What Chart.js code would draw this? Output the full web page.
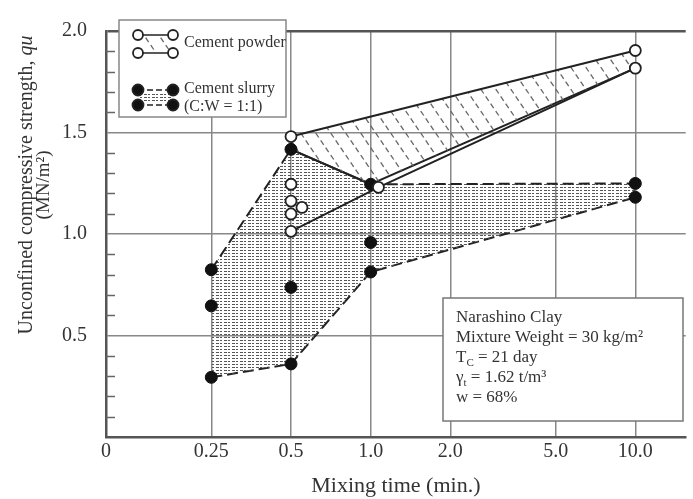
<!DOCTYPE html>
<html>
<head>
<meta charset="utf-8">
<script src="https://cdn.jsdelivr.net/npm/chart.js@4/dist/chart.umd.min.js"></script>
<style>
  html, body { margin: 0; padding: 0; background: #fff; }
  #wrap { width: 693px; height: 499px; }
</style>
</head>
<body>
<div id="wrap"><canvas id="chart" width="693" height="499"></canvas></div>
<script>
// axis ticks
const xTickValues = [0.1, 0.25, 0.5, 1, 2, 5, 10];
const xTickLabels = ['0', '0.25', '0.5', '1.0', '2.0', '5.0', '10.0'];
const yTickValues = [0.5, 1.0, 1.5, 2.0];
const yTickLabels = ['0.5', '1.0', '1.5', '2.0'];
const yMinorTicks = [0.1, 0.2, 0.3, 0.4, 0.6, 0.7, 0.8, 0.9, 1.1, 1.2, 1.3, 1.4, 1.6, 1.7, 1.8, 1.9];

// cement powder (open circles)
const powderTime = [0.5, 0.5, 0.5, 0.5, 0.5, 0.55, 1.07, 10, 10];
const powderQu = [1.48, 1.245, 1.162, 1.099, 1.013, 1.131, 1.23, 1.904, 1.817];
const powderTopTime = [0.5, 10];
const powderTopQu = [1.48, 1.904];
const powderEdgeTime = [0.5, 1, 10];
const powderEdgeQu = [1.417, 1.245, 1.817];
const powderLowTime = [0.5, 1.07, 10];
const powderLowQu = [1.013, 1.23, 1.817];

// cement slurry C:W = 1:1 (filled circles)
const slurryTime = [0.25, 0.25, 0.25, 0.5, 0.5, 0.5, 1, 1, 1, 10, 10];
const slurryQu = [0.824, 0.646, 0.294, 1.417, 0.737, 0.36, 1.245, 0.958, 0.813, 1.249, 1.181];
const slurryTopTime = [0.25, 0.5, 1, 10];
const slurryTopQu = [0.824, 1.417, 1.245, 1.249];
const slurryLowTime = [0.25, 0.5, 1, 10];
const slurryLowQu = [0.294, 0.36, 0.813, 1.181];

const FONT = "'Liberation Serif', 'DejaVu Serif', serif";
const INK = '#222';
const DASH = [11, 5];

const pts = (xs, ys) => xs.map((x, i) => ({ x: x, y: ys[i] }));

function hatchPattern() {
  const c = document.createElement('canvas');
  c.width = 15; c.height = 22;
  const g = c.getContext('2d');
  g.strokeStyle = '#666';
  g.lineWidth = 1.3;
  [[0.05, 0.25], [0.38, 0.58], [0.71, 0.91]].forEach(([a, b]) => {
    g.beginPath();
    g.moveTo(15 * a, 22 * a);
    g.lineTo(15 * b, 22 * b);
    g.stroke();
  });
  return g.createPattern(c, 'repeat');
}

function dotPattern() {
  const c = document.createElement('canvas');
  c.width = 8; c.height = 3;
  const g = c.getContext('2d');
  g.fillStyle = '#555';
  g.fillRect(0, 1, 3, 1);
  g.fillRect(4, 1, 2, 1);
  return g.createPattern(c, 'repeat');
}

const hatch = hatchPattern();
const dots = dotPattern();

function lineSet(data, extra) {
  return Object.assign({
    type: 'line',
    data: data,
    borderColor: INK,
    borderWidth: 2,
    pointRadius: 0,
    fill: false,
    tension: 0
  }, extra);
}

const minorTicks = {
  id: 'minorTicks',
  afterDraw(chart) {
    const { ctx, chartArea } = chart;
    const y = chart.scales.y;
    ctx.save();
    ctx.strokeStyle = '#666';
    ctx.lineWidth = 1.5;
    yMinorTicks.forEach(v => {
      const py = Math.round(y.getPixelForValue(v)) + 0.5;
      ctx.beginPath();
      ctx.moveTo(chartArea.left, py);
      ctx.lineTo(chartArea.left + 9, py);
      ctx.stroke();
    });
    ctx.restore();
  }
};

const yTitle = {
  id: 'yTitle',
  afterDraw(chart) {
    const ctx = chart.ctx;
    const cy = 185;
    ctx.save();
    ctx.fillStyle = '#333';
    ctx.textBaseline = 'middle';
    ctx.translate(27, cy);
    ctx.rotate(-Math.PI / 2);
    const main = 'Unconfined compressive strength, ';
    ctx.font = '20px ' + FONT;
    const w1 = ctx.measureText(main).width;
    ctx.font = 'italic 20px ' + FONT;
    const w2 = ctx.measureText('qu').width;
    let x = -(w1 + w2) / 2;
    ctx.font = '20px ' + FONT;
    ctx.textAlign = 'left';
    ctx.fillText(main, x, 0);
    ctx.font = 'italic 20px ' + FONT;
    ctx.fillText('qu', x + w1, 0);
    ctx.font = '19px ' + FONT;
    ctx.textAlign = 'center';
    ctx.fillText('(MN/m²)', 0, 17);
    ctx.restore();
  }
};

const boxes = {
  id: 'boxes',
  afterDatasetsDraw(chart) {
    const ctx = chart.ctx;
    ctx.save();

    // legend
    ctx.fillStyle = '#fff';
    ctx.fillRect(119, 20, 167, 97);
    ctx.strokeStyle = '#888';
    ctx.lineWidth = 1.5;
    ctx.strokeRect(119, 20, 167, 97);

    ctx.fillStyle = hatch;
    ctx.fillRect(140, 37, 31, 14);
    ctx.fillStyle = dots;
    ctx.fillRect(140, 92, 31, 11);

    const pair = (y, filled, dashed) => {
      ctx.strokeStyle = INK;
      ctx.lineWidth = 1.6;
      ctx.setLineDash(dashed ? [6, 3] : []);
      ctx.beginPath();
      ctx.moveTo(138, y);
      ctx.lineTo(173, y);
      ctx.stroke();
      ctx.setLineDash([]);
      [138, 173].forEach(x => {
        ctx.beginPath();
        ctx.arc(x, y, filled ? 5.5 : 5, 0, Math.PI * 2);
        ctx.fillStyle = filled ? '#111' : '#fff';
        ctx.fill();
        ctx.lineWidth = 1.8;
        ctx.stroke();
      });
    };
    pair(35, false, false);
    pair(53, false, false);
    pair(90, true, true);
    pair(105, true, true);

    ctx.fillStyle = '#333';
    ctx.font = '16px ' + FONT;
    ctx.textAlign = 'left';
    ctx.textBaseline = 'middle';
    ctx.fillText('Cement powder', 184, 43);
    ctx.fillText('Cement slurry', 184, 89);
    ctx.fillText('(C:W = 1:1)', 184, 107);

    // site conditions
    ctx.fillStyle = '#fff';
    ctx.fillRect(443, 298, 240, 123);
    ctx.strokeStyle = '#777';
    ctx.lineWidth = 1.5;
    ctx.strokeRect(443, 298, 240, 123);

    ctx.fillStyle = '#333';
    ctx.font = '17px ' + FONT;
    const tx = 456;
    ctx.fillText('Narashino Clay', tx, 318);
    ctx.fillText('Mixture Weight = 30 kg/m²', tx, 338);
    const sub = (head, small, tail, y) => {
      ctx.font = '17px ' + FONT;
      ctx.fillText(head, tx, y);
      let x = tx + ctx.measureText(head).width;
      ctx.font = '11px ' + FONT;
      ctx.fillText(small, x, y + 5);
      x += ctx.measureText(small).width;
      ctx.font = '17px ' + FONT;
      ctx.fillText(tail, x, y);
    };
    sub('T', 'C', ' = 21 day', 358);
    sub('γ', 't', ' = 1.62 t/m³', 378);
    ctx.font = '17px ' + FONT;
    ctx.fillText('w = 68%', tx, 398);

    ctx.restore();
  }
};

new Chart(document.getElementById('chart'), {
  type: 'scatter',
  data: {
    datasets: [
      {
        label: 'Cement powder',
        data: pts(powderTime, powderQu),
        pointRadius: 5.5,
        pointBorderWidth: 1.8,
        pointBorderColor: INK,
        pointBackgroundColor: '#fff',
        order: 0
      },
      {
        label: 'Cement slurry',
        data: pts(slurryTime, slurryQu),
        pointRadius: 6,
        pointBorderWidth: 1,
        pointBorderColor: '#111',
        pointBackgroundColor: '#111',
        order: 1
      },
      lineSet(pts(powderTopTime, powderTopQu), { fill: '+1', backgroundColor: hatch, order: 2 }),
      lineSet(pts(powderEdgeTime, powderEdgeQu), { order: 2 }),
      lineSet(pts(powderLowTime, powderLowQu), { order: 2 }),
      lineSet(pts(slurryTopTime, slurryTopQu), {
        fill: '+1',
        backgroundColor: dots,
        order: 3,
        segment: { borderDash: c => (c.p0DataIndex === 1 ? [] : DASH) }
      }),
      lineSet(pts(slurryLowTime, slurryLowQu), { borderDash: DASH, order: 3 })
    ]
  },
  options: {
    responsive: false,
    animation: false,
    layout: { padding: { top: 15, right: 0, bottom: 0, left: 0 } },
    plugins: {
      legend: { display: false },
      tooltip: { enabled: false }
    },
    scales: {
      x: {
        type: 'logarithmic',
        min: 0.1,
        max: 15.5,
        afterBuildTicks: s => { s.ticks = xTickValues.map(v => ({ value: v })); },
        afterFit: s => { s.height = 62; },
        ticks: {
          autoSkip: false,
          maxRotation: 0,
          padding: 3,
          color: '#333',
          font: { family: FONT, size: 20 },
          callback: (v, i) => xTickLabels[i]
        },
        grid: {
          drawTicks: false,
          lineWidth: 1.5,
          color: c => (c.index === 0 ? 'rgba(0,0,0,0)' : '#888')
        },
        border: { color: '#555', width: 2.5 },
        title: {
          display: true,
          text: 'Mixing time (min.)',
          color: '#333',
          font: { family: FONT, size: 22 },
          padding: { top: 0, bottom: 0 }
        }
      },
      y: {
        min: 0,
        max: 2,
        afterBuildTicks: s => { s.ticks = yTickValues.map(v => ({ value: v })); },
        afterFit: s => { s.width = 106; },
        ticks: {
          padding: 19,
          color: '#333',
          font: { family: FONT, size: 20 },
          callback: (v, i) => yTickLabels[i]
        },
        grid: {
          drawTicks: false,
          lineWidth: c => (c.index === yTickValues.length - 1 ? 2.5 : 1.5),
          color: c => (c.index === yTickValues.length - 1 ? '#555' : '#888')
        },
        border: { color: '#555', width: 2.5 }
      }
    }
  },
  plugins: [minorTicks, yTitle, boxes]
});
</script>
</body>
</html>
